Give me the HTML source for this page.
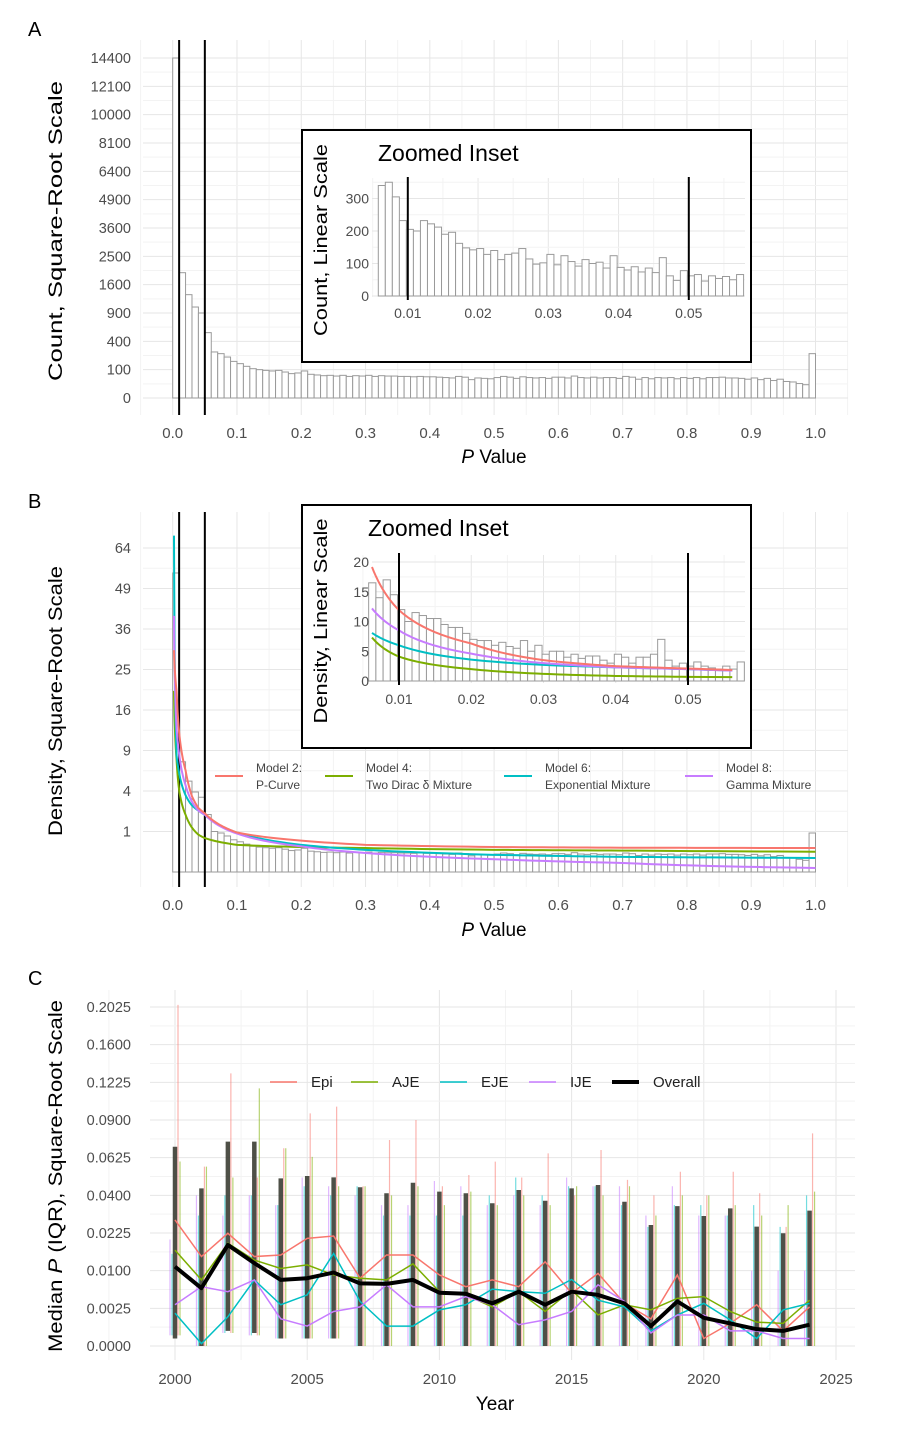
<!DOCTYPE html>
<html><head><meta charset="utf-8"><style>
html,body{margin:0;padding:0;background:#fff;}
svg{display:block;font-family:"Liberation Sans",Arial,sans-serif;}
</style></head><body>
<svg id="fig" width="898" height="1434" viewBox="0 0 898 1434" xmlns="http://www.w3.org/2000/svg"></svg>
<script>
// ---------- Panel A data (counts per 0.01 bin) ----------
const countsA = [14400,1956,1330,1031,900,532,264,245,209,167,
147,125,107,100,95,91,95,84,74,78,
91,70,66,62,64,60,64,58,62,60,
64,58,62,60,60,58,58,56,58,56,
56,54,52,50,58,54,42,50,48,46,
52,58,54,48,56,52,50,52,48,54,
54,50,60,52,50,54,50,52,52,48,
58,54,44,52,46,52,50,52,46,52,
48,52,46,52,52,54,50,50,48,44,
50,42,48,38,44,34,32,26,22,245];
const yTicksA = [0,100,400,900,1600,2500,3600,4900,6400,8100,10000,12100,14400];
const xTicksMain = [0,0.1,0.2,0.3,0.4,0.5,0.6,0.7,0.8,0.9,1.0];
const insetCountsA = [340,350,305,232,205,200,232,222,212,190,196,162,148,142,146,128,140,112,128,132,146,114,98,102,128,96,124,106,92,112,100,104,86,124,88,80,90,74,86,72,118,62,48,78,62,66,46,62,54,60,50,66];
const insetYTicksA = [0,100,200,300];
const insetXTicks = [0.01,0.02,0.03,0.04,0.05];
const thresholds = [0.01,0.05];
// ---------- Panel B data ----------
const yTicksB = [1,4,9,16,25,36,49,64];
const insetDensityB = [16.5,14,17,14.5,12,10,11.5,11,10.5,10.5,9.5,9,9,8,7,6.8,6.8,6,6.5,5.8,5.5,6.8,5,6,4.5,5,5,4,4.5,3.8,4.2,4.2,3.5,3,4.5,4,3,4,4,4.5,7,3.5,2.5,3,2.5,3.2,2.5,2.2,2,2.5,2,3.2];
const insetYTicksB = [0,5,10,15,20];
const curveP = [0.002,0.006,0.01,0.02,0.03,0.04,0.05,0.1,0.2,0.3,0.5,0.7,1.0];
const model2 = [30,20,11.9,6.3,3.5,2.5,2.1,0.95,0.6,0.45,0.38,0.36,0.35];
const model4 = [20,7.7,4.1,2.0,1.2,0.85,0.7,0.45,0.38,0.35,0.3,0.28,0.25];
const model6 = [69,8.3,6.0,3.6,2.7,2.3,2.0,0.95,0.45,0.3,0.18,0.14,0.12];
const model8 = [40,12.6,8.5,4.6,3.0,2.3,2.0,0.9,0.4,0.22,0.1,0.05,0.01];
// ---------- Panel C data ----------
const years = [2000,2001,2002,2003,2004,2005,2006,2007,2008,2009,2010,2011,2012,2013,2014,2015,2016,2017,2018,2019,2020,2021,2022,2023,2024];
const epiMed = [.0280,.0141,.0224,.0141,.0146,.0204,.0213,.0081,.0146,.0146,.0089,.0062,.0077,.0062,.0125,.0049,.0093,.0032,.0013,.0089,.0001,.0009,.0030,.0004,.0027];
const ajeMed = [.0162,.0077,.0186,.0130,.0106,.0116,.0089,.0081,.0077,.0119,.0052,.0046,.0027,.0052,.0021,.0055,.0017,.0030,.0023,.0040,.0043,.0021,.0010,.0009,.0037];
const ejeMed = [.0019,.00001,.0015,.0077,.0030,.0046,.0151,.0035,.0007,.0007,.0023,.0030,.0057,.0052,.0049,.0078,.0037,.0027,.0004,.0017,.0032,.0012,.0001,.0023,.0032];
const ijeMed = [.0030,.0062,.0052,.0077,.0013,.0007,.0021,.0027,.0066,.0027,.0027,.0043,.0030,.0008,.0012,.0021,.0066,.0035,.0003,.0017,.0017,.0004,.0004,.0001,.0001];
const allMed = [.0111,.0059,.0180,.0121,.0077,.0081,.0095,.0069,.0068,.0077,.0050,.0048,.0032,.0052,.0030,.0052,.0046,.0032,.0007,.0035,.0014,.0009,.0005,.0004,.0008];
const epiQ3 = [.205,.0567,.131,.050,.0689,.0954,.101,.045,.0748,.090,.045,.0515,.0599,.050,.0654,.040,.0677,.0486,.040,.0535,.040,.0535,.0411,.025,.0797];
const ajeQ3 = [.060,.0567,.050,.117,.0689,.063,.045,.045,.040,.045,.035,.042,.035,.040,.035,.045,.040,.045,.030,.040,.040,.035,.030,.035,.042];
const ejeQ3 = [.015,.030,.040,.040,.035,.045,.040,.045,.030,.030,.030,.030,.040,.050,.040,.045,.045,.035,.025,.035,.035,.030,.035,.025,.040];
const ijeQ3 = [.020,.040,.030,.040,.035,.050,.045,.040,.035,.035,.048,.045,.035,.040,.035,.050,.045,.045,.030,.045,.030,.030,.010,.010,.010];
const jQ1 = [.0002,0,.0003,.0002,.0001,.0001,.0001,0,0,0,0,0,0,0,0,0,0,0,0,0,0,0,0,0,0];
const allQ3 = [.0700,.0438,.0736,.0736,.0495,.0509,.0501,.0444,.0411,.0470,.0420,.0411,.0359,.0429,.0372,.0438,.0457,.0367,.0258,.0345,.0298,.0334,.0251,.0224,.0323];
const allQ1 = [.0001,0,.0004,.0003,.0001,.0001,.0001,0,0,0,0,0,0,0,0,0,0,0,0,0,0,0,0,0,0];
const yTicksC = [0,0.0025,0.01,0.0225,0.04,0.0625,0.09,0.1225,0.16,0.2025];
const yTickLabelsC = ["0.0000","0.0025","0.0100","0.0225","0.0400","0.0625","0.0900","0.1225","0.1600","0.2025"];
const xTicksC = [2000,2005,2010,2015,2020,2025];

const NS="http://www.w3.org/2000/svg";
const svg=document.getElementById('fig');
function el(tag,attrs,parent,text){const e=document.createElementNS(NS,tag);for(const k in attrs)e.setAttribute(k,attrs[k]);if(text!==undefined)e.textContent=text;(parent||svg).appendChild(e);return e;}
function grp(name){const g=el('g',{});return g;}
const TICK="#4d4d4d",MAJ="#e6e6e6",MIN="#f3f3f3";

// scales
const xA=p=>172.7+p*642.8;
const yA=c=>398-2.8333*Math.sqrt(c);
const xAi=p=>407.8+(p-0.01)*7025;
const yAi=c=>296-0.325*c;
const yB=d=>872-40.5*Math.sqrt(Math.max(d,0));
const xBi=p=>399+(p-0.01)*7225;
const yBi=d=>681-5.95*d;
const xC=y=>175+(y-2000)*26.44;
const yC=v=>1346-753.3*Math.sqrt(Math.max(v,0));

function panelLabel(t,x,y){const e=el('text',{x:x,y:y,'font-size':20,fill:'#000'},svg,t);}
function yTitle(parts,cx,cy,len,size,name){const t=el('text',{transform:`translate(${cx},${cy}) rotate(-90)`,'text-anchor':'middle','font-size':size,fill:'#000',textLength:len,lengthAdjust:'spacingAndGlyphs'});parts.forEach(p=>{const s=el('tspan',p.it?{'font-style':'italic'}:{},t,p.t);});}
function xTitle(cx,y,name){const t=el('text',{x:cx,y:y,'text-anchor':'middle','font-size':19,fill:'#000'});el('tspan',{'font-style':'italic'},t,'P');el('tspan',{},t,' Value');}

// ---------- main histogram panel ----------
function mainPanel(prefix,top,bot,yfun,yTicks,vals,base){
  const g=grp(prefix+'-grid');
  svg.appendChild(g);
  for(let i=0;i<xTicksMain.length;i++){const x=xA(xTicksMain[i]);el('line',{x1:x,x2:x,y1:top,y2:bot,stroke:MAJ,'stroke-width':1},g);if(i<xTicksMain.length-1){const xm=xA(xTicksMain[i]+0.05);el('line',{x1:xm,x2:xm,y1:top,y2:bot,stroke:MIN,'stroke-width':1},g);}}
  el('line',{x1:xA(-0.05),x2:xA(-0.05),y1:top,y2:bot,stroke:MIN},g);
  el('line',{x1:xA(1.05),x2:xA(1.05),y1:top,y2:bot,stroke:MIN},g);
  for(let i=0;i<yTicks.length;i++){const y=yfun(yTicks[i]);el('line',{x1:143,x2:848,y1:y,y2:y,stroke:MAJ},g);if(i<yTicks.length-1){const s=(Math.sqrt(yTicks[i])+Math.sqrt(yTicks[i+1]))/2;const ym=yfun(s*s);el('line',{x1:143,x2:848,y1:ym,y2:ym,stroke:MIN},g);}}
  const yl=grp(prefix+'-y-axis-labels');svg.appendChild(yl);
  yTicks.forEach(v=>{el('text',{x:131,y:yfun(v)+5,'text-anchor':'end','font-size':14.5,fill:TICK},yl,String(v));});
  const xl=grp(prefix+'-x-axis-labels');svg.appendChild(xl);
  xTicksMain.forEach(v=>{el('text',{x:xA(v),y:bot+23,'text-anchor':'middle','font-size':15,fill:TICK},xl,v.toFixed(1));});
  const bars=grp(prefix+'-histogram');svg.appendChild(bars);
  for(let i=0;i<vals.length;i++){const x0=xA(i*0.01),x1=xA((i+1)*0.01),y=yfun(vals[i]);const r=el('rect',{x:x0,y:y,width:x1-x0,height:base-y,fill:'#fff',stroke:'#9a9a9a','stroke-width':1},bars);}
}
function vlines(prefix,xf,y1,y2){const g=grp(prefix+'-threshold-lines');svg.appendChild(g);thresholds.forEach(t=>{const l=el('line',{x1:xf(t),x2:xf(t),y1:y1,y2:y2,stroke:'#000','stroke-width':2},g);});}

function insetPanel(prefix,boxTop,boxBot,xf,yf,yTicks,plotTop,plotBot,vals,titleX,titleY,ytitle,ytitleCy,ytitleLen){
  const box=el('rect',{x:302,y:boxTop,width:449,height:boxBot-boxTop,fill:'#fff',stroke:'#000','stroke-width':2});
  
  const g=grp(prefix+'-inset-grid');svg.appendChild(g);
  const xl=372,xr=745;
  insetXTicks.forEach(t=>{el('line',{x1:xf(t),x2:xf(t),y1:plotTop,y2:plotBot,stroke:MAJ},g);el('line',{x1:xf(t+0.005),x2:xf(t+0.005),y1:plotTop,y2:plotBot,stroke:MIN},g);});
  el('line',{x1:xf(0.005),x2:xf(0.005),y1:plotTop,y2:plotBot,stroke:MIN},g);
  const step=yTicks[1]-yTicks[0];
  yTicks.forEach(t=>{el('line',{x1:xl,x2:xr,y1:yf(t),y2:yf(t),stroke:MAJ},g);const ym=yf(t+step/2);if(ym>plotTop)el('line',{x1:xl,x2:xr,y1:ym,y2:ym,stroke:MIN},g);});
  const bars=grp(prefix+'-inset-histogram');svg.appendChild(bars);
  for(let i=0;i<vals.length;i++){const p0=0.0058+i*0.001;const x0=xf(p0),x1=xf(p0+0.001),y=yf(vals[i]);const r=el('rect',{x:x0,y:y,width:x1-x0,height:yf(0)-y,fill:'#fff',stroke:'#9a9a9a','stroke-width':1},bars);}
  const yl=grp(prefix+'-inset-y-labels');svg.appendChild(yl);
  yTicks.forEach(t=>{el('text',{x:xl-3,y:yf(t)+5,'text-anchor':'end','font-size':14,fill:TICK},yl,String(t));});
  const xlab=grp(prefix+'-inset-x-labels');svg.appendChild(xlab);
  insetXTicks.forEach(t=>{el('text',{x:xf(t),y:plotBot+21,'text-anchor':'middle','font-size':14,fill:TICK},xlab,t.toFixed(2));});
  const ti=el('text',{x:titleX,y:titleY,'font-size':23,fill:'#000'},svg,'Zoomed Inset');
  yTitle([{t:ytitle}],327,ytitleCy,ytitleLen,18,prefix+'-inset-y-title');
}

// ===== Panel A =====
panelLabel('A',28,36);
mainPanel('panel-a',40,415,yA,yTicksA,countsA,398);
vlines('panel-a',xA,40,415);
yTitle([{t:'Count, Square-Root Scale'}],62,231,300,19,'panel-a-y-title');
xTitle(494,463,'panel-a-x-title');
insetPanel('panel-a',130,362,xAi,yAi,insetYTicksA,178,297,insetCountsA,378,161,'Count, Linear Scale',240,192);
vlines('panel-a-inset',xAi,177,300);

// ===== Panel B =====
panelLabel('B',28,508);
const NA=countsA.reduce((a,b)=>a+b,0);
const densityB=countsA.map(c=>c/(NA*0.01));
mainPanel('panel-b',512,887,yB,yTicksB,densityB,872);
vlines('panel-b',xA,512,887);
yTitle([{t:'Density, Square-Root Scale'}],62,701,270,19,'panel-b-y-title');
xTitle(494,936,'panel-b-x-title');

const modelColors=['#F8766D','#7CAE00','#00BFC4','#C77CFF'];
const models=[model2,model4,model6,model8];
const modelNames=['model-2-p-curve','model-4-two-dirac','model-6-exponential','model-8-gamma'];
function curvePath(vals,xf,yf,pmin,pmax){let d='';let first=true;for(let i=0;i<curveP.length-1;i++){const p0=curveP[i],p1=curveP[i+1],v0=vals[i],v1=vals[i+1];for(let k=0;k<=12;k++){const t=k/12;const p=Math.exp(Math.log(p0)+t*(Math.log(p1)-Math.log(p0)));if(p<pmin||p>pmax)continue;const v=Math.exp(Math.log(v0)+t*(Math.log(v1)-Math.log(v0)));d+=(first?'M':'L')+xf(p).toFixed(2)+','+yf(v).toFixed(2);first=false;}}return d;}
const cg=grp('panel-b-model-curves');svg.appendChild(cg);
[1,2,3,0].forEach(i=>{const p=el('path',{d:curvePath(models[i],xA,yB,0.002,1.0),fill:'none',stroke:modelColors[i],'stroke-width':2},cg);});

// legend B
const lgB=grp('panel-b-legend');svg.appendChild(lgB);
const lgText=[['Model 2:','P-Curve'],['Model 4:','Two Dirac \u03b4 Mixture'],['Model 6:','Exponential Mixture'],['Model 8:','Gamma Mixture']];
const lgKeyX=[215,325,504,685];
for(let i=0;i<4;i++){const e=grp('legend-entry-'+modelNames[i]);lgB.appendChild(e);el('line',{x1:lgKeyX[i],x2:lgKeyX[i]+28,y1:776,y2:776,stroke:modelColors[i],'stroke-width':2},e);el('text',{x:lgKeyX[i]+41,y:772,'font-size':12,fill:'#444'},e,lgText[i][0]);el('text',{x:lgKeyX[i]+41,y:789,'font-size':12,fill:'#444'},e,lgText[i][1]);}

insetPanel('panel-b',505,748,xBi,yBi,insetYTicksB,555,683,insetDensityB,368,536,'Density, Linear Scale',621,205);
const icg=grp('panel-b-inset-curves');svg.appendChild(icg);
[1,2,3,0].forEach(i=>{const p=el('path',{d:curvePath(models[i],xBi,yBi,0.006,0.0575),fill:'none',stroke:modelColors[i],'stroke-width':2},icg);});
vlines('panel-b-inset',xBi,553,685);

// ===== Panel C =====
panelLabel('C',28,985);
const gc=grp('panel-c-grid');svg.appendChild(gc);
xTicksC.forEach((t,i)=>{el('line',{x1:xC(t),x2:xC(t),y1:990,y2:1360,stroke:MAJ},gc);el('line',{x1:xC(t-2.5),x2:xC(t-2.5),y1:990,y2:1360,stroke:MIN},gc);});
yTicksC.forEach((t,i)=>{el('line',{x1:150,x2:855,y1:yC(t),y2:yC(t),stroke:MAJ},gc);if(i<yTicksC.length-1){const s=(Math.sqrt(t)+Math.sqrt(yTicksC[i+1]))/2;el('line',{x1:150,x2:855,y1:yC(s*s),y2:yC(s*s),stroke:MIN},gc);}});
const ylc=grp('panel-c-y-axis-labels');svg.appendChild(ylc);
yTicksC.forEach((t,i)=>{el('text',{x:131,y:yC(t)+5,'text-anchor':'end','font-size':14.5,fill:TICK},ylc,yTickLabelsC[i]);});
const xlc=grp('panel-c-x-axis-labels');svg.appendChild(xlc);
xTicksC.forEach(t=>{el('text',{x:xC(t),y:1384,'text-anchor':'middle','font-size':15,fill:TICK},xlc,String(t));});
yTitle([{t:'Median '},{t:'P',it:true},{t:' (IQR), Square-Root Scale'}],62,1176,352,19,'panel-c-y-title');
const yt=el('text',{x:495,y:1410,'text-anchor':'middle','font-size':19,fill:'#000'},svg,'Year');

const jMed=[epiMed,ajeMed,ejeMed,ijeMed];
const jQ3=[epiQ3,ajeQ3,ejeQ3,ijeQ3];
const jNames=['epi','aje','eje','ije'];
const jOff=[3,5,-3,-5];
// overall IQR bars
const ob=grp('overall-iqr-bars');svg.appendChild(ob);
years.forEach((yr,i)=>{const l=el('line',{x1:xC(yr),x2:xC(yr),y1:yC(allQ3[i]),y2:yC(allQ1[i]),stroke:'#3b3d33','stroke-width':4.5,'stroke-opacity':0.9},ob);});
// journal IQR lines
for(let j=0;j<4;j++){const g=grp(jNames[j]+'-iqr-lines');svg.appendChild(g);years.forEach((yr,i)=>{el('line',{x1:xC(yr)+jOff[j],x2:xC(yr)+jOff[j],y1:yC(jQ3[j][i]),y2:yC(jQ1[i]),stroke:modelColors[j],'stroke-width':1.2,'stroke-opacity':0.55},g);});}
// journal median lines
for(let j=0;j<4;j++){const pts=years.map((yr,i)=>xC(yr).toFixed(2)+','+yC(jMed[j][i]).toFixed(2)).join(' ');const p=el('polyline',{points:pts,fill:'none',stroke:modelColors[j],'stroke-width':1.5});}
const op=el('polyline',{points:years.map((yr,i)=>xC(yr).toFixed(2)+','+yC(allMed[i]).toFixed(2)).join(' '),fill:'none',stroke:'#000','stroke-width':4,'stroke-linejoin':'round'});

// legend C
const lgC=grp('panel-c-legend');svg.appendChild(lgC);
const cLab=['Epi','AJE','EJE','IJE','Overall'];const cCol=[...modelColors,'#000'];const cX=[270,351,440,529,612];
for(let i=0;i<5;i++){const e=grp('legend-entry-'+cLab[i].toLowerCase());lgC.appendChild(e);el('line',{x1:cX[i],x2:cX[i]+27,y1:1082,y2:1082,stroke:cCol[i],'stroke-width':i==4?4:1.5},e);el('text',{x:cX[i]+41,y:1087,'font-size':15,fill:'#222'},e,cLab[i]);}
</script>
</body></html>
